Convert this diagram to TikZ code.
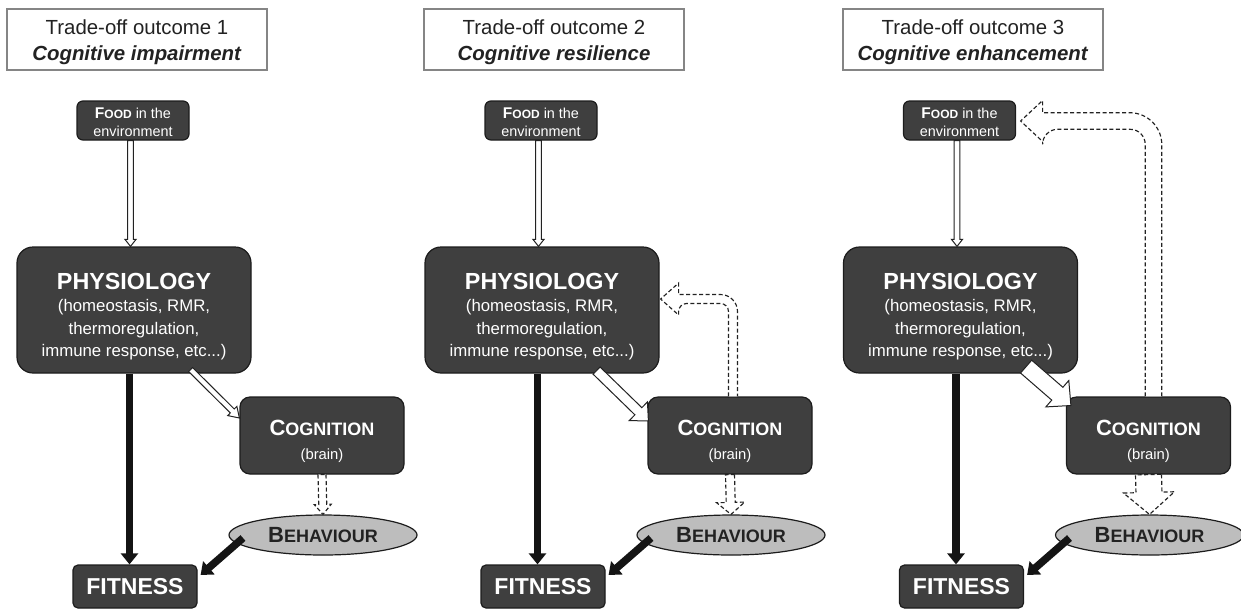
\documentclass[tikz,border=0pt]{standalone}
\usepackage{fontspec}
\setmainfont{Liberation Sans}
\usetikzlibrary{calc,arrows.meta,shapes.geometric}

\definecolor{boxfill}{HTML}{3F3F3F}
\definecolor{boxline}{HTML}{1C1C1C}
\definecolor{behfill}{HTML}{BDBDBD}
\definecolor{titleline}{HTML}{858585}
\definecolor{txtdark}{HTML}{222222}
\definecolor{arrline}{HTML}{222222}

\newcommand\fsz[2]{\fontsize{#1}{#2}\selectfont}

% block arrow: #1 style, #2 tail, #3 tip, #4 shaft half width, #5 head half width, #6 head length
\newcommand\blockarr[6]{%
  \coordinate (ba-H) at ($(#3)!#6!(#2)$);
  \path[#1] ($(#2)!#4!90:(#3)$) -- ($(ba-H)!#4!90:(#3)$) -- ($(ba-H)!#5!90:(#3)$) -- (#3)
    -- ($(ba-H)!#5!-90:(#3)$) -- ($(ba-H)!#4!-90:(#3)$) -- ($(#2)!#4!-90:(#3)$) -- cycle;}

\tikzset{
  darkbox/.style={draw=boxline, line width=1.2pt, fill=boxfill, text=white, align=center, inner sep=0pt},
  titlebox/.style={draw=titleline, line width=1.3pt, fill=white, minimum width=260pt, minimum height=61pt,
    align=center, text=txtdark, inner sep=0pt, font=\fsz{20.4}{26}},
  foodbox/.style={darkbox, rounded corners=6pt, minimum width=112pt, minimum height=39pt, font=\fsz{14.4}{18}},
  physbox/.style={darkbox, rounded corners=16pt, minimum width=234pt, minimum height=126pt, font=\fsz{16.8}{22.5}},
  cogbox/.style={darkbox, rounded corners=10pt, minimum width=164pt, minimum height=77pt, font=\fsz{14.8}{24}},
  fitbox/.style={darkbox, rounded corners=5pt, minimum width=124pt, minimum height=43pt, font=\bfseries\fsz{23}{26}},
  behnode/.style={ellipse, draw=boxline, line width=1.2pt, fill=behfill, minimum width=188pt, minimum height=40pt,
    inner sep=0pt, text=txtdark},
  hollow/.style={draw=arrline, line width=1pt, fill=white, line join=miter},
  dashhollow/.style={hollow, line width=1.15pt, dash pattern=on 4pt off 2.5pt},
  blackarrow/.style={draw=black!92, line width=7.5pt, -{Triangle[width=17pt,length=11pt]}},
}

% #1 prefix, #2 content shift, #3 title centre x, #4 number, #5 subtitle
\newcommand\drawpanel[5]{%
  \node[titlebox] (#1title) at (#3,39.5) {\rule{0pt}{21pt}Trade-off outcome #4\\\textbf{\textit{#5}}};
  \begin{scope}[xshift=#2]
    \node[foodbox] (#1food) at (133,120.5)
      {\rule{0pt}{15pt}{\bfseries\fsz{15.5}{18}F\fsz{12}{18}OOD}\fsz{14.4}{18} in the\\environment};
    \node[physbox] (#1phys) at (134,310)
      {\rule{0pt}{29pt}{\bfseries\fsz{23.3}{23}PHYSIOLOGY}\\(homeostasis, RMR,\\thermoregulation,\\immune response, etc...)};
    \node[cogbox] (#1cog) at (322,435.5)
      {\rule{0pt}{27pt}{\bfseries\fsz{22}{24}C\fsz{18}{24}OGNITION}\\(brain)};
    \node[behnode] (#1beh) at (323,535) {\bfseries\fsz{22}{22}B\fsz{18}{22}EHAVIOUR};
    \node[fitbox] (#1fit) at (135,586.5) {FITNESS};
  \end{scope}
  % food -> physiology
  \coordinate (#1fa) at ($(#1food.south)+(-2.5,0)$);
  \coordinate (#1fb) at (#1fa |- #1phys.north);
  \blockarr{hollow}{#1fa}{#1fb}{2.8pt}{5.5pt}{7pt}
  % physiology -> fitness
  \coordinate (#1pa) at ($(#1phys.south)+(-4.5,0)$);
  \draw[blackarrow] (#1pa) -- (#1pa |- #1fit.north);
  % behaviour -> fitness
  \draw[blackarrow] ($(#1beh.center)+(-80,3)$) -- ($(#1fit.east)+(3,-11.5)$);
}

\begin{document}
\begin{tikzpicture}[x=1pt,y=-1pt]
\useasboundingbox (0,0) rectangle (1241,611);
\fill[white] (0,0) rectangle (1241,611);

\drawpanel{p1}{0pt}{137}{1}{Cognitive impairment}
\drawpanel{p2}{408pt}{554}{2}{Cognitive resilience}
\drawpanel{p3}{826.5pt}{973}{3}{Cognitive enhancement}

% ---- panel 1 ----
\coordinate (p1ca) at ($(p1phys.south east)+(-61,-4)$);
\coordinate (p1cb) at ($(p1cog.west)+(0,-17.5)$);
\blockarr{hollow}{p1ca}{p1cb}{2.8pt}{6.5pt}{10pt}
\blockarr{dashhollow}{p1cog.south}{p1beh.north}{4pt}{8.5pt}{10pt}

% ---- panel 2 ----
\coordinate (p2ca) at ($(p2phys.south east)+(-63,-3)$);
\coordinate (p2cb) at ($(p2cog.west)+(1,-14.5)$);
\blockarr{hollow}{p2ca}{p2cb}{5pt}{13pt}{14pt}
\blockarr{dashhollow}{p2cog.south}{p2beh.north}{4.5pt}{14pt}{12pt}
\coordinate (p2fbT) at ($(p2phys.east)+(1,-11)$);
\coordinate (p2fbS) at ($(p2cog.north)+(3,0)$);
\path[dashhollow] ($(p2fbS)+(-4.5,0)$) [rounded corners=8pt] |- ($(p2fbT)+(18,4.5)$) [sharp corners]
  -- ($(p2fbT)+(18,16)$) -- (p2fbT) -- ($(p2fbT)+(18,-16)$) -- ($(p2fbT)+(18,-4.5)$)
  [rounded corners=17pt] -| ($(p2fbS)+(4.5,0)$);

% ---- panel 3 ----
\coordinate (p3ca) at ($(p3phys.south east)+(-52,-7)$);
\coordinate (p3cb) at ($(p3cog.west)+(5,-30)$);
\blockarr{hollow}{p3ca}{p3cb}{8.5pt}{17.5pt}{18pt}
\blockarr{dashhollow}{p3cog.south}{p3beh.north}{13pt}{25.5pt}{22pt}
\coordinate (p3fbT) at ($(p3food.east)+(4.5,0.5)$);
\coordinate (p3fbS) at ($(p3cog.north)+(5,0)$);
\path[dashhollow] ($(p3fbS)+(-8.3,0)$) [rounded corners=15pt] |- ($(p3fbT)+(22,8.3)$) [sharp corners]
  -- ($(p3fbT)+(22,20.5)$) -- (p3fbT) -- ($(p3fbT)+(22,-20.5)$) -- ($(p3fbT)+(22,-8.3)$)
  [rounded corners=32pt] -| ($(p3fbS)+(8.3,0)$);
\end{tikzpicture}
\end{document}
